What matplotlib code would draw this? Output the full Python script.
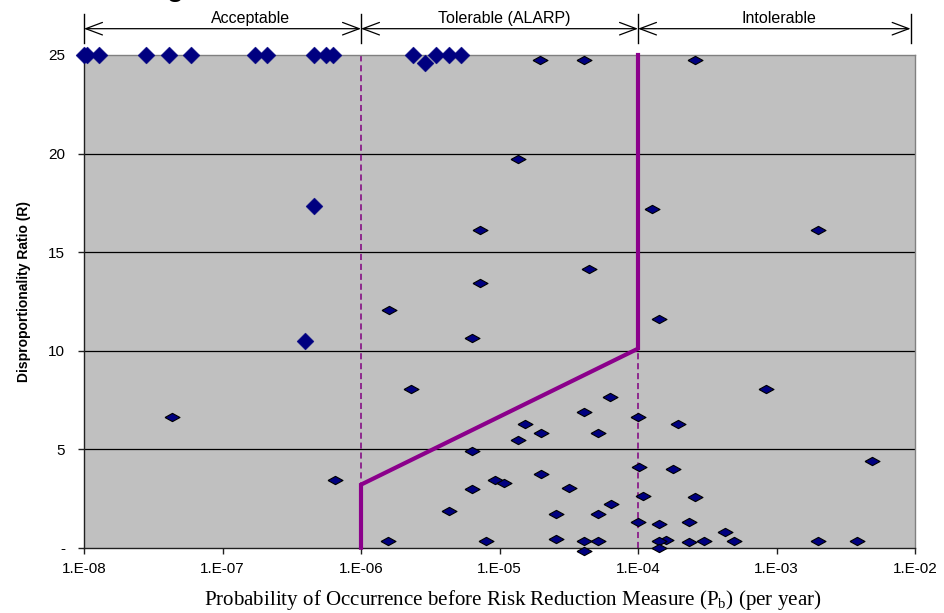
import matplotlib
matplotlib.use("Agg")
import matplotlib.pyplot as plt
from matplotlib.transforms import blended_transform_factory

# ---------------- data ----------------
# large navy diamonds (no outline)
big_x = [1.0e-8, 1.05e-8, 1.29e-8, 2.8e-8, 4.1e-8, 5.9e-8, 1.73e-7, 2.11e-7,
         4.6e-7, 5.6e-7, 6.3e-7, 2.39e-6, 2.9e-6, 3.46e-6, 4.3e-6, 5.25e-6,
         4.6e-7, 3.94e-7]
big_y = [25, 25, 25, 25, 25, 25, 25, 25,
         25, 25, 25, 25, 24.6, 25, 25, 25,
         17.35, 10.5]

# small navy diamonds (black outline)
small_x = [1.97e-5, 4.06e-5, 2.58e-4,
           1.36e-5, 1.26e-4, 7.27e-6, 2.0e-3,
           4.45e-5, 7.27e-6, 1.59e-6, 1.41e-4, 6.3e-6,
           2.3e-6, 8.35e-4, 6.3e-5, 4.07e-5, 9.95e-5, 4.3e-8,
           1.53e-5, 1.95e-4, 1.98e-5, 5.17e-5, 1.35e-5, 6.3e-6,
           4.92e-3, 1.02e-4, 1.8e-4, 1.98e-5, 9.29e-6, 6.5e-7,
           1.08e-5, 3.17e-5, 6.3e-6, 1.09e-4, 2.59e-4, 6.38e-5,
           4.3e-6, 2.55e-5, 5.17e-5, 9.95e-5, 2.32e-4, 1.41e-4,
           4.25e-4, 2.55e-5, 1.59e-4,
           1.57e-6, 8.0e-6, 4.07e-5, 5.17e-5, 1.41e-4, 3.01e-4, 4.96e-4, 2.0e-3, 3.8e-3,
           2.32e-4, 4.07e-5, 1.41e-4]
small_y = [24.75, 24.75, 24.75,
           19.72, 17.19, 16.13, 16.13,
           14.13, 13.42, 12.07, 11.62, 10.63,
           8.06, 8.06, 7.63, 6.9, 6.65, 6.62,
           6.26, 6.26, 5.84, 5.84, 5.47, 4.92,
           4.42, 4.11, 3.98, 3.72, 3.44, 3.42,
           3.27, 3.03, 2.96, 2.64, 2.56, 2.22,
           1.86, 1.71, 1.71, 1.29, 1.29, 1.2,
           0.78, 0.44, 0.39,
           0.36, 0.36, 0.36, 0.36, 0.36, 0.36, 0.36, 0.36, 0.36,
           0.27, -0.15, -0.03]

# ALARP criterion line
crit_x = [1e-6, 1e-6, 1e-4, 1e-4]
crit_y = [0, 3.2, 10.1, 25]

# region boundaries (dashed)
bound_x = [1e-6, 1e-4]

# zones on top
zone_edges = [1e-8, 1e-6, 1e-4, 9.3e-3]
zone_labels = ["Acceptable", "Tolerable (ALARP)", "Intolerable"]
zone_label_pos = [0.1998, 0.5054, 0.8363]

xticks = [1e-8, 1e-7, 1e-6, 1e-5, 1e-4, 1e-3, 1e-2]
xtick_labels = ["1.E-08", "1.E-07", "1.E-06", "1.E-05", "1.E-04", "1.E-03", "1.E-02"]
yticks = [0, 5, 10, 15, 20, 25]
ytick_labels = ["-", "5", "10", "15", "20", "25"]

# ---------------- figure ----------------
SANS = "Liberation Sans"
SERIF = "Liberation Serif"
plt.rcParams["font.family"] = SANS

fig = plt.figure(figsize=(9.44, 6.13), dpi=100)
W, H = 944, 613
x0, x1, y0, y1 = 84, 915, 547.7, 55
ax = fig.add_axes([x0 / W, 1 - y0 / H, (x1 - x0) / W, (y0 - y1) / H])
ax.set_facecolor("#C0C0C0")
ax.set_xscale("log")
ax.set_xlim(1e-8, 1e-2)
ax.set_ylim(0, 25)

# grid lines
for yv in yticks[1:-1]:
    ax.axhline(yv, color="black", lw=0.9, zorder=1)

# dashed boundaries
for bx in bound_x:
    ax.axvline(bx, color="#800080", lw=1.1, ls=(0, (4, 2.5)), zorder=2)

# criterion line
ax.plot(crit_x, crit_y, color="#8B008B", lw=3.0, zorder=3, solid_joinstyle="miter",
        clip_on=False)

# markers
big_marker = [(-1, 0), (0, 1), (1, 0), (0, -1), (-1, 0)]
small_marker = [(-1, 0), (0, 0.55), (1, 0), (0, -0.55), (-1, 0)]
ax.plot(small_x, small_y, ls="none", marker=small_marker, ms=10.8,
        mfc="#000080", mec="black", mew=0.8, zorder=5, clip_on=False)
ax.plot(big_x, big_y, ls="none", marker=big_marker, ms=12.2,
        mfc="#000080", mec="#000080", mew=0.3, zorder=6, clip_on=False)

# spines
for s in ["left", "bottom"]:
    ax.spines[s].set_color("#202020")
    ax.spines[s].set_linewidth(1.0)
for s in ["right", "top"]:
    ax.spines[s].set_color("#808080")
    ax.spines[s].set_linewidth(1.0)

ax.set_xticks(xticks)
ax.set_xticklabels(xtick_labels)
ax.xaxis.set_minor_locator(matplotlib.ticker.NullLocator())
ax.set_yticks(yticks)
ax.set_yticklabels(ytick_labels)
ax.tick_params(axis="x", direction="out", length=4, width=1, color="#202020",
               labelsize=11, pad=6)
ax.tick_params(axis="y", direction="out", length=4, width=1, color="#202020",
               labelsize=11, pad=9.5)

# zone annotations above axes
trans = blended_transform_factory(ax.transData, ax.transAxes)
for e in zone_edges:
    ax.plot([e, e], [1.024, 1.083], transform=trans, color="black", lw=1.0,
            clip_on=False)
for a, b in zip(zone_edges[:-1], zone_edges[1:]):
    ax.annotate("", xy=(b, 1.0534), xytext=(a, 1.0534), xycoords=trans,
                textcoords=trans,
                arrowprops=dict(arrowstyle="<->, head_length=1.2, head_width=0.45",
                                mutation_scale=10, shrinkA=0, shrinkB=0,
                                color="black", lw=0.9))
for lab, px in zip(zone_labels, zone_label_pos):
    ax.text(px, 1.075, lab, transform=ax.transAxes, ha="center", va="center",
            fontsize=11.5, family=SANS)

# axis labels
fig.text(24 / W, 1 - 292 / H, "Disproportionality Ratio (R)", rotation=90,
         ha="center", va="center", fontsize=10, fontweight="bold", family=SANS)
fig.text(513 / W, 1 - 600 / H,
         r"Probability of Occurrence before Risk Reduction Measure (P$_\mathregular{b}$) (per year)",
         ha="center", va="center", fontsize=15.1, family=SERIF)

# cropped title fragment at very top (cut off in the reference too)
fig.text(175 / W, 1 + 3.5 / H, "g", ha="center", va="baseline", fontsize=20,
         fontweight="bold", family=SANS)

fig.savefig("out.png", dpi=100)
